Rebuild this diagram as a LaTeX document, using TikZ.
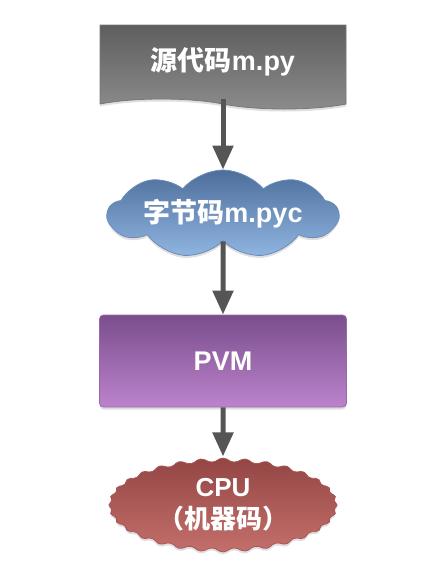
\documentclass[tikz,border=0pt]{standalone}
\usepackage{fontspec}
\setmainfont{Liberation Sans}
\newfontfamily\cjk{Noto Sans CJK SC}
\usetikzlibrary{shapes.symbols,arrows.meta,shadows}
\definecolor{srctop}{HTML}{5E5E5E}
\definecolor{srcbot}{HTML}{8C8C8C}
\definecolor{srcline}{HTML}{777777}
\definecolor{bctop}{HTML}{4D6E9B}
\definecolor{bcbot}{HTML}{90B5E1}
\definecolor{bcline}{HTML}{6A8CBA}
\definecolor{vmtop}{HTML}{7A4E8C}
\definecolor{vmbot}{HTML}{BC83CD}
\definecolor{vmline}{HTML}{9A66B0}
\definecolor{cputop}{HTML}{934543}
\definecolor{cpubot}{HTML}{C4706C}
\definecolor{cpuline}{HTML}{A85654}
\definecolor{arrowgray}{HTML}{555555}

\tikzset{
	stage/.style={draw, line width=0.8pt, text=white, align=center,
		font=\bfseries\fontsize{27}{32}\selectfont,
		drop shadow={opacity=0.25, shadow xshift=0pt, shadow yshift=-2.5pt}},
	flow/.style={line width=5pt, draw=arrowgray, -{Triangle[width=20pt,length=24pt]}}
}

\begin{document}
\begin{tikzpicture}[x=1pt, y=-1pt]
				\useasboundingbox (0, 0) rectangle (432, 576);
				% Stages:
				\node[stage, tape, tape bend top=none, tape bend bottom=out and in, tape bend height=10pt,
					minimum width=246pt, minimum height=84pt, draw=srcline, top color=srctop, bottom color=srcbot]
					(src) at (223, 62){{\cjk 源代码}m.py};
				\node[stage, cloud, cloud puffs=9, cloud puff arc=100, cloud ignores aspect,
					minimum width=230pt, minimum height=88pt, draw=bcline, top color=bctop, bottom color=bcbot]
					(pyc) at (223, 214){{\cjk 字节码}m.pyc};
				\node[stage, rectangle, rounded corners=4pt, minimum width=247pt, minimum height=92pt,
					draw=vmline, top color=vmtop, bottom color=vmbot]
					(pvm) at (223, 361){PVM};
				\node[stage, starburst, starburst points=32, starburst point height=6pt, random starburst=0,
					rounded corners=4pt, minimum width=232pt, minimum height=86pt, draw=cpuline,
					top color=cputop, bottom color=cpubot, font=\bfseries\fontsize{26}{32}\selectfont]
					(cpu) at (223, 505){CPU\\{\cjk （机器码）}};
				% Arrows:
				\draw[flow] (src.south) -- (pyc.north);
				\draw[flow] (pyc.south) -- (pvm.north);
				\draw[flow] (pvm.south) -- (cpu.north);
			\end{tikzpicture}
\end{document}
